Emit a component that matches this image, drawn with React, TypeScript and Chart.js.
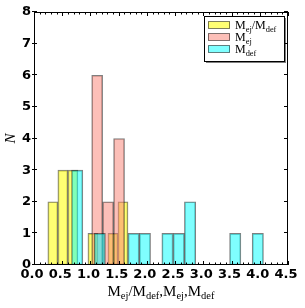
import React, { useEffect, useRef } from 'react';
import { Chart, registerables } from 'chart.js';
Chart.register(...registerables);

// Histogram bin centres and counts
const ratioBinCenters = [0.334, 0.5115, 0.689, 0.8665, 1.044, 1.2215, 1.399, 1.5765];
const ratioCounts = [2, 3, 3, 0, 1, 0, 1, 2];
const ejectaBinCenters = [1.119, 1.313, 1.507];
const ejectaCounts = [6, 2, 4];
const deflagBinCenters = [0.765, 0.965, 1.165, 1.365, 1.565, 1.765, 1.965, 2.165, 2.365, 2.565, 2.765, 2.965, 3.165, 3.365, 3.565, 3.765, 3.965];
const deflagCounts = [3, 0, 1, 0, 0, 1, 1, 0, 1, 1, 2, 0, 0, 0, 1, 0, 1];

const xMin = 0;
const xMax = 4.5;
const xMajorStep = 0.5;
const xMinorStep = 0.1;
const yMin = 0;
const yMax = 8;
const yStep = 1;

type Part = { t: string; sub?: boolean };
const ratioLabel: Part[] = [{ t: 'M' }, { t: 'ej', sub: true }, { t: '/M' }, { t: 'def', sub: true }];
const ejectaLabel: Part[] = [{ t: 'M' }, { t: 'ej', sub: true }];
const deflagLabel: Part[] = [{ t: 'M' }, { t: 'def', sub: true }];
const xTitle: Part[] = [
  { t: 'M' }, { t: 'ej', sub: true }, { t: '/M' }, { t: 'def', sub: true },
  { t: ',M' }, { t: 'ej', sub: true }, { t: ',M' }, { t: 'def', sub: true },
];
const yTitle = 'N';

const COLORS = {
  ratio: 'rgba(255,255,0,0.55)',
  ejecta: 'rgba(250,128,114,0.5)',
  deflag: 'rgba(0,255,255,0.5)',
  edge: 'rgba(0,0,0,0.5)',
};

const SERIF = '"Liberation Serif", "DejaVu Serif", serif';

function richWidth(ctx: CanvasRenderingContext2D, parts: Part[], size: number) {
  let w = 0;
  for (const p of parts) {
    ctx.font = `${p.sub ? size * 0.7 : size}px ${SERIF}`;
    w += ctx.measureText(p.t).width;
  }
  return w;
}

function drawRich(ctx: CanvasRenderingContext2D, parts: Part[], x: number, y: number, size: number, align: 'left' | 'center') {
  const w = richWidth(ctx, parts, size);
  let cx = align === 'center' ? x - w / 2 : x;
  ctx.textAlign = 'left';
  ctx.textBaseline = 'alphabetic';
  ctx.fillStyle = '#000';
  for (const p of parts) {
    ctx.font = `${p.sub ? size * 0.7 : size}px ${SERIF}`;
    ctx.fillText(p.t, cx, p.sub ? y + size * 0.22 : y);
    cx += ctx.measureText(p.t).width;
  }
}

const decorPlugin = {
  id: 'decor',
  afterDatasetsDraw(chart: any) {
    const { ctx, chartArea } = chart;
    const { left, right, top, bottom } = chartArea;
    const xs = chart.scales.x;
    const ys = chart.scales.y;
    ctx.save();
    // spines
    ctx.strokeStyle = '#000';
    ctx.lineWidth = 1;
    ctx.strokeRect(Math.round(left) + 0.5, Math.round(top) + 0.5, Math.round(right - left) - 1, Math.round(bottom - top) - 1);
    // x ticks
    ctx.beginPath();
    const nMinor = Math.round((xMax - xMin) / xMinorStep);
    for (let i = 0; i <= nMinor; i++) {
      const v = xMin + i * xMinorStep;
      const isMajor = Math.abs(v / xMajorStep - Math.round(v / xMajorStep)) < 1e-6;
      const len = isMajor ? 4 : 2.5;
      const px = Math.round(xs.getPixelForValue(v)) + 0.5;
      ctx.moveTo(px, bottom);
      ctx.lineTo(px, bottom - len);
      ctx.moveTo(px, top);
      ctx.lineTo(px, top + len);
    }
    // y ticks
    for (let v = yMin; v <= yMax; v += yStep) {
      const py = Math.round(ys.getPixelForValue(v)) - 0.5;
      ctx.moveTo(left - 2, py);
      ctx.lineTo(left + 3, py);
      ctx.moveTo(right, py);
      ctx.lineTo(right - 4, py);
    }
    ctx.stroke();

    // legend
    const bx = 204, by = 16, bw = 80, bh = 45;
    ctx.fillStyle = 'rgba(0,0,0,0.5)';
    ctx.fillRect(bx + 2, by + 2, bw, bh);
    ctx.fillStyle = '#fff';
    ctx.fillRect(bx, by, bw, bh);
    ctx.strokeStyle = '#000';
    ctx.lineWidth = 1;
    ctx.strokeRect(bx + 0.5, by + 0.5, bw, bh);
    const rows: [string, Part[]][] = [
      [COLORS.ratio, ratioLabel],
      [COLORS.ejecta, ejectaLabel],
      [COLORS.deflag, deflagLabel],
    ];
    rows.forEach(([col, parts], i) => {
      const cy = 25 + i * 12;
      ctx.fillStyle = col;
      ctx.fillRect(208, cy - 3.5, 22, 7);
      ctx.strokeStyle = COLORS.edge;
      ctx.strokeRect(208.5, cy - 3.5, 21, 7);
      drawRich(ctx, parts, 235, cy + 4, 12, 'left');
    });

    // axis titles
    drawRich(ctx, xTitle, (left + right) / 2, 296, 15, 'center');
    ctx.translate(15, (top + bottom) / 2);
    ctx.rotate(-Math.PI / 2);
    ctx.font = `italic 15px ${SERIF}`;
    ctx.textAlign = 'center';
    ctx.textBaseline = 'alphabetic';
    ctx.fillStyle = '#000';
    ctx.fillText(yTitle, 0, 0);
    ctx.restore();
  },
};

function toPoints(xsArr: number[], ysArr: number[]) {
  return xsArr.map((x, i) => ({ x, y: ysArr[i] === 0 ? null : ysArr[i] }));
}

export default function App() {
  const ref = useRef<HTMLCanvasElement>(null);
  useEffect(() => {
    if (!ref.current) return;
    const tickFont = { family: '"DejaVu Sans", sans-serif', size: 13, weight: 'bold' as const };
    const barCommon = {
      borderColor: COLORS.edge,
      borderWidth: 1,
      borderSkipped: false,
      barPercentage: 1,
      categoryPercentage: 1,
      grouped: false,
    };
    const hiddenX = { type: 'linear' as const, min: xMin, max: xMax, offset: false, display: false, ticks: { stepSize: 1 } };
    const chart = new Chart(ref.current, {
      type: 'bar',
      data: {
        datasets: [
          { ...barCommon, label: 'ratio', data: toPoints(ratioBinCenters, ratioCounts) as any, xAxisID: 'x', backgroundColor: COLORS.ratio, order: 2 },
          { ...barCommon, label: 'ejecta', data: toPoints(ejectaBinCenters, ejectaCounts) as any, xAxisID: 'x2', backgroundColor: COLORS.ejecta, order: 1 },
          { ...barCommon, label: 'deflag', data: toPoints(deflagBinCenters, deflagCounts) as any, xAxisID: 'x3', backgroundColor: COLORS.deflag, order: 0 },
        ] as any,
      },
      options: {
        responsive: false,
        animation: false,
        layout: { padding: { top: 12, right: 17, left: 0, bottom: 0 } },
        plugins: { legend: { display: false }, tooltip: { enabled: false } },
        scales: {
          x: {
            type: 'linear',
            min: xMin,
            max: xMax,
            offset: false,
            grid: { display: false, offset: false, drawTicks: false, tickLength: 0 },
            border: { display: false },
            ticks: {
              stepSize: xMajorStep,
              font: tickFont,
              color: '#000',
              padding: 2,
              maxRotation: 0,
              autoSkip: false,
              labelOffset: -2,
              callback: (v: any) => Number(v).toFixed(1),
            },
            afterFit: (s: any) => { s.height = 43; },
          },
          x2: hiddenX,
          x3: hiddenX,
          y: {
            type: 'linear',
            min: yMin,
            max: yMax,
            grid: { display: false, drawTicks: false, tickLength: 0 },
            border: { display: false },
            ticks: {
              stepSize: yStep,
              font: tickFont,
              color: '#000',
              padding: 3,
              callback: (v: any) => String(v),
            },
            afterFit: (s: any) => { s.width = 34; },
          },
        },
      } as any,
      plugins: [decorPlugin],
    });
    return () => chart.destroy();
  }, []);
  return (
    <div style={{ position: 'absolute', left: 0, top: 0, width: 305, height: 308, background: '#fff' }}>
      <canvas ref={ref} width={305} height={308} style={{ display: 'block' }} />
    </div>
  );
}
